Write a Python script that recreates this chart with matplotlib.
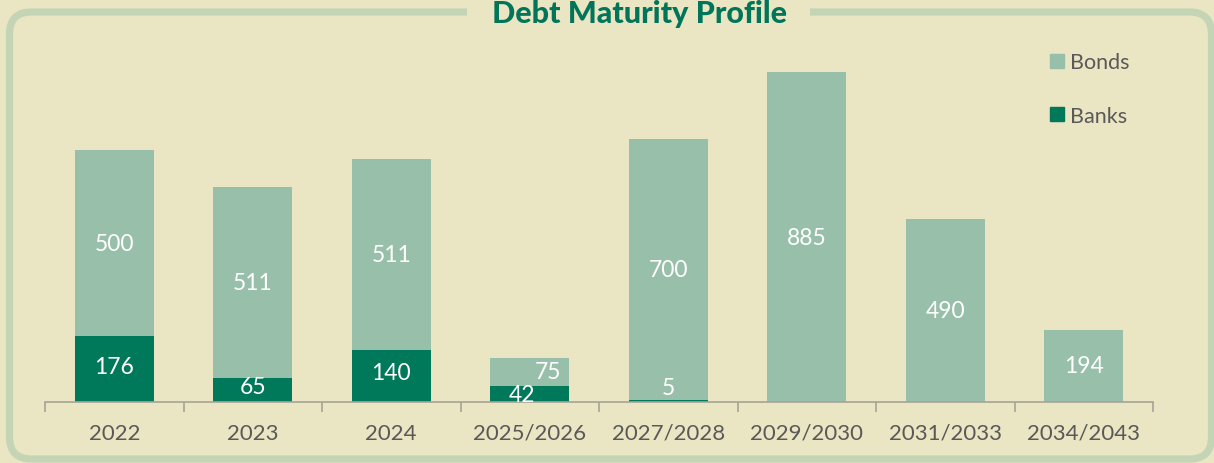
import matplotlib.pyplot as plt
from matplotlib.patches import FancyBboxPatch, Rectangle
from matplotlib.lines import Line2D
from matplotlib.transforms import IdentityTransform
import numpy as np

categories = ['2022', '2023', '2024', '2025/2026', '2027/2028', '2029/2030', '2031/2033', '2034/2043']
banks = [176, 65, 140, 42, 5, 0, 0, 0]
bonds = [500, 511, 511, 75, 700, 885, 490, 194]

bg = '#eae5c2'
bond_col = '#98bfa9'
bank_col = '#00785a'
border_col = '#c4d5b6'
title_col = '#00755a'
tick_col = '#595959'

plt.rcParams['font.family'] = ['Lato', 'DejaVu Sans']

W, H = 1214, 464
fig = plt.figure(figsize=(W / 100, H / 100), dpi=100, facecolor=bg)

# rounded frame around the chart (pixel coords)
frame = FancyBboxPatch((9.5, 4), 1202, 447, boxstyle='round,pad=0,rounding_size=22',
                       transform=IdentityTransform(), fill=False, edgecolor=border_col,
                       linewidth=5.2, zorder=0)
fig.patches.append(frame)
gap = Rectangle((467, 440), 343, 24, transform=IdentityTransform(), facecolor=bg,
                edgecolor='none', zorder=1)
fig.patches.append(gap)
fig.text(639 / W, 1 - 14 / H, 'Debt Maturity Profile', ha='center', va='center',
         fontsize=22, fontweight='black', color=title_col, zorder=2)

ax = fig.add_axes([45 / W, 61 / H, (1153 - 45) / W, 372.8 / H])
ax.set_facecolor('none')
x = np.arange(len(categories))
width = 0.57
ax.bar(x, banks, width, color=bank_col, label='Banks', zorder=2)
ax.bar(x, bonds, width, bottom=banks, color=bond_col, label='Bonds', zorder=2)

ax.set_xlim(-0.5, len(categories) - 0.5)
ax.set_ylim(0, 1000)

# value labels, a few nudged like in the original
nudge_bank = {3: (-8, 0), 4: (0, 14)}
nudge_bond = {3: (18, 1)}
for i in range(len(categories)):
    if banks[i] > 0:
        dx, dy = nudge_bank.get(i, (0, 3))
        ax.annotate(str(banks[i]), (x[i], banks[i] / 2), xytext=(dx * 0.72, dy * 0.72),
                    textcoords='offset points', ha='center', va='center',
                    color='white', fontsize=16.5, zorder=3)
    dx, dy = nudge_bond.get(i, (0, 0))
    ax.annotate(str(bonds[i]), (x[i], banks[i] + bonds[i] / 2), xytext=(dx * 0.72, dy * 0.72),
                textcoords='offset points', ha='center', va='center',
                color='white', fontsize=16.5, zorder=3)

for s in ['top', 'right', 'left']:
    ax.spines[s].set_visible(False)
ax.spines['bottom'].set_color('#a6a39a')
ax.spines['bottom'].set_linewidth(1.2)
ax.set_yticks([])
ax.set_xticks(x)
ax.set_xticklabels(categories, fontsize=16, color=tick_col)
ax.tick_params(axis='x', which='major', length=0, pad=15)
ax.set_xticks(np.arange(len(categories) + 1) - 0.5, minor=True)
ax.tick_params(axis='x', which='minor', length=7, width=1.2, color='#a6a39a', direction='out')

handles = [Line2D([], [], marker='s', linestyle='none', markersize=9.5, color=bond_col),
           Line2D([], [], marker='s', linestyle='none', markersize=9.5, color=bank_col)]
fig.legend(handles, ['Bonds', 'Banks'], loc='upper left', bbox_to_anchor=(1025 / W, 1 - 34 / H),
           frameon=False, fontsize=15.5, labelcolor=tick_col, handletextpad=0.0,
           labelspacing=1.55, handlelength=1.2)

fig.savefig('out.png', dpi=100, facecolor=bg)
